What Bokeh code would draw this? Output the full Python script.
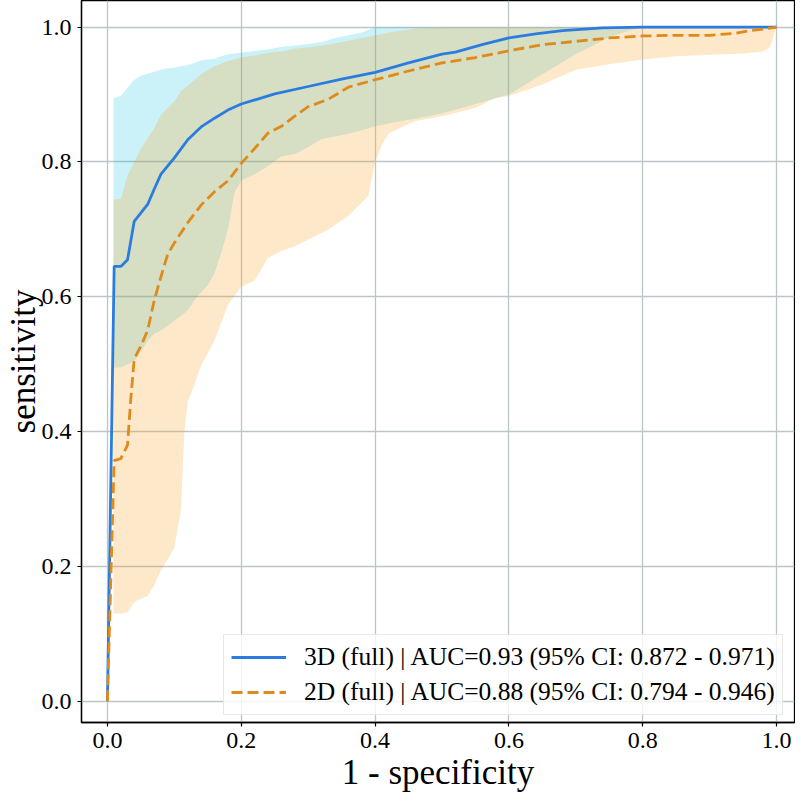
from bokeh.plotting import figure
from bokeh.models import FixedTicker, PrintfTickFormatter, Legend, LegendItem
from bokeh.embed import file_html
from bokeh.resources import INLINE

# ---- data ----
fpr_3d = [0, 0.01, 0.02, 0.03, 0.04, 0.06, 0.07, 0.08, 0.10, 0.12, 0.14, 0.16, 0.18, 0.20,
          0.25, 0.30, 0.35, 0.40, 0.45, 0.50, 0.52, 0.56, 0.60, 0.64, 0.68, 0.74, 0.80, 1.0]
tpr_3d = [0, 0.645, 0.645, 0.655, 0.712, 0.737, 0.760, 0.782, 0.806, 0.833, 0.852, 0.865, 0.877, 0.886,
          0.901, 0.912, 0.923, 0.933, 0.947, 0.960, 0.963, 0.974, 0.984, 0.990, 0.995, 0.999, 1.0, 1.0]

fpr_2d = [0, 0.01, 0.02, 0.03, 0.035, 0.04, 0.05, 0.06, 0.07, 0.08, 0.09, 0.10, 0.12, 0.14, 0.16, 0.18,
          0.20, 0.22, 0.24, 0.26, 0.28, 0.30, 0.33, 0.36, 0.40, 0.45, 0.50, 0.55, 0.60, 0.65, 0.70,
          0.75, 0.80, 0.85, 0.90, 0.94, 0.96, 0.98, 1.0]
tpr_2d = [0, 0.357, 0.36, 0.38, 0.45, 0.508, 0.527, 0.55, 0.595, 0.63, 0.663, 0.68, 0.71, 0.736, 0.756, 0.772,
          0.798, 0.82, 0.843, 0.853, 0.868, 0.882, 0.893, 0.911, 0.922, 0.935, 0.947, 0.955, 0.965, 0.974, 0.979,
          0.984, 0.987, 0.988, 0.988, 0.991, 0.995, 0.997, 1.0]

band_x_3d = [0.009, 0.02, 0.03, 0.04, 0.05, 0.06, 0.07, 0.08, 0.09, 0.10, 0.11, 0.12, 0.13, 0.14, 0.15,
             0.16, 0.17, 0.18, 0.19, 0.20, 0.22, 0.24, 0.26, 0.28, 0.30, 0.32, 0.34, 0.36, 0.38, 0.40,
             0.42, 0.44, 0.46, 0.50, 0.55, 0.60, 0.65, 0.70, 0.75, 0.78, 0.80, 0.90, 1.0]
band_lo_3d = [0.495, 0.495, 0.50, 0.505, 0.518, 0.535, 0.545, 0.55, 0.557, 0.565, 0.572, 0.58, 0.595, 0.607, 0.617,
              0.635, 0.665, 0.70, 0.755, 0.772, 0.782, 0.794, 0.808, 0.812, 0.822, 0.834, 0.838, 0.842, 0.847, 0.853,
              0.857, 0.861, 0.864, 0.872, 0.886, 0.90, 0.93, 0.96, 0.985, 0.995, 1.0, 1.0, 1.0]
band_hi_3d = [0.895, 0.898, 0.91, 0.922, 0.928, 0.931, 0.934, 0.937, 0.939, 0.94, 0.942, 0.944, 0.947, 0.951, 0.952,
              0.953, 0.957, 0.96, 0.961, 0.962, 0.965, 0.967, 0.971, 0.973, 0.975, 0.978, 0.984, 0.988, 0.992, 1.0,
              1.0, 1.0, 1.0, 1.0, 1.0, 1.0, 1.0, 1.0, 1.0, 1.0, 1.0, 1.0, 1.0]

band_x_2d = [0.009, 0.02, 0.03, 0.04, 0.05, 0.06, 0.07, 0.08, 0.09, 0.10, 0.11, 0.115, 0.12, 0.13, 0.14,
             0.16, 0.18, 0.20, 0.22, 0.24, 0.26, 0.28, 0.30, 0.33, 0.36, 0.38, 0.39, 0.40, 0.41, 0.42,
             0.44, 0.46, 0.50, 0.55, 0.58, 0.60, 0.65, 0.70, 0.75, 0.80, 0.85, 0.90, 0.95, 0.98, 0.99, 1.0]
band_lo_2d = [0.13, 0.13, 0.132, 0.147, 0.152, 0.156, 0.172, 0.195, 0.21, 0.228, 0.285, 0.40, 0.445, 0.47, 0.498,
              0.535, 0.588, 0.615, 0.624, 0.658, 0.668, 0.675, 0.685, 0.70, 0.72, 0.74, 0.75, 0.80, 0.825, 0.842,
              0.852, 0.861, 0.868, 0.88, 0.895, 0.898, 0.915, 0.937, 0.945, 0.952, 0.957, 0.959, 0.961, 0.964, 0.97, 1.0]
band_hi_2d = [0.744, 0.745, 0.78, 0.80, 0.82, 0.835, 0.85, 0.87, 0.88, 0.89, 0.905, 0.909, 0.913, 0.922, 0.93,
              0.942, 0.95, 0.955, 0.958, 0.962, 0.964, 0.968, 0.97, 0.974, 0.98, 0.984, 0.986, 0.988, 0.99, 0.992,
              0.995, 0.998, 1.0, 1.0, 1.0, 1.0, 1.0, 1.0, 1.0, 1.0, 1.0, 1.0, 1.0, 1.0, 1.0, 1.0]

tick_values = [0.0, 0.2, 0.4, 0.6, 0.8, 1.0]
label_3d = "3D (full) | AUC=0.93 (95% CI: 0.872 - 0.971)"
label_2d = "2D (full) | AUC=0.88 (95% CI: 0.794 - 0.946)"
x_title = "1 - specificity"
y_title = "sensitivity"

FONT = "Liberation Serif"
BLUE = "#2a7ddf"
ORANGE = "#df8a1c"

p = figure(width=795, height=794, x_range=(-0.0388, 1.0269), y_range=(-0.0316, 1.0396),
           output_backend="svg", toolbar_location=None,
           min_border_left=81, min_border_right=1, min_border_top=0, min_border_bottom=70)

p.background_fill_color = "white"
p.border_fill_color = "white"
p.outline_line_color = "black"
p.outline_line_width = 1.3

for ax in (p.xaxis[0], p.yaxis[0]):
    ax.ticker = FixedTicker(ticks=tick_values)
    ax.formatter = PrintfTickFormatter(format="%.1f")
    ax.major_label_text_font = FONT
    ax.major_label_text_font_size = "24px"
    ax.major_label_text_color = "black"
    ax.axis_label_text_font = FONT
    ax.axis_label_text_font_size = "35px"
    ax.axis_label_text_font_style = "normal"
    ax.axis_label_text_color = "black"
    ax.axis_label_text_line_height = 0.8
    ax.minor_tick_line_color = None
    ax.major_tick_in = 0
    ax.major_tick_out = 4
    ax.major_tick_line_color = "black"
    ax.major_tick_line_width = 1.2
    ax.axis_line_color = "black"
    ax.axis_line_width = 1.3

p.xaxis.axis_label = x_title
p.yaxis.axis_label = y_title
p.xaxis.major_label_standoff = 6
p.yaxis.major_label_standoff = 6
p.xaxis.axis_label_standoff = 2
p.yaxis.axis_label_standoff = -4

p.grid.grid_line_color = "#bcc6c8"
p.grid.grid_line_width = 1.3

p.varea(x=band_x_3d, y1=band_lo_3d, y2=band_hi_3d, fill_color="#00bee1", fill_alpha=0.2)
p.varea(x=band_x_2d, y1=band_lo_2d, y2=band_hi_2d, fill_color="#f5a01e", fill_alpha=0.24)

r3 = p.line(fpr_3d, tpr_3d, line_color=BLUE, line_width=2.8)
r2 = p.line(fpr_2d, tpr_2d, line_color=ORANGE, line_width=2.8, line_dash="11 5")

legend = Legend(items=[LegendItem(label=label_3d, renderers=[r3]),
                       LegendItem(label=label_2d, renderers=[r2])],
                location=(142, 7))
legend.label_text_font = FONT
legend.label_text_font_size = "25.5px"
legend.label_text_color = "black"
legend.glyph_width = 55
legend.glyph_height = 26
legend.label_height = 26
legend.label_standoff = 18
legend.spacing = 5
legend.padding = 7
legend.margin = 0
legend.border_line_color = "#d4d4d4"
legend.border_line_width = 1.2
legend.background_fill_alpha = 0.8
p.add_layout(legend)

open("out.html", "w").write(file_html(p, INLINE))
